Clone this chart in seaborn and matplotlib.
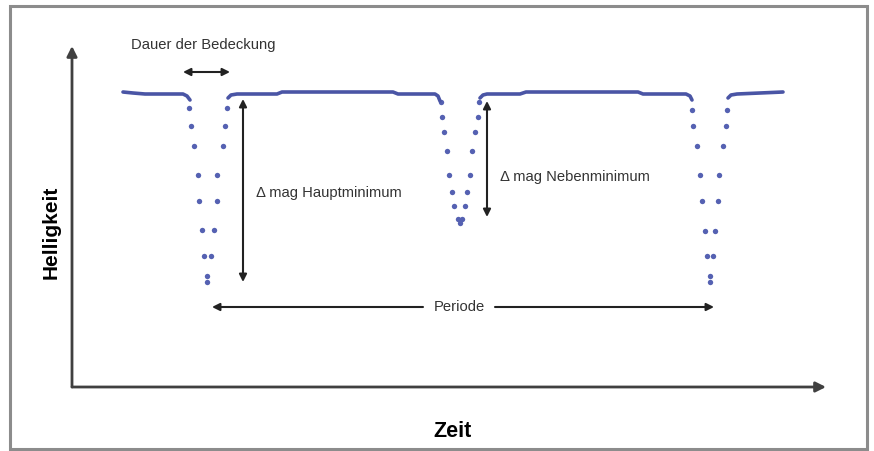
import numpy as np
import pandas as pd
import matplotlib
matplotlib.use("Agg")
import matplotlib.pyplot as plt
from matplotlib.patches import Rectangle
from matplotlib import font_manager as fm
import seaborn as sns

# Schematic light curve of an eclipsing binary.
# Units: time (Zeit) and brightness (Helligkeit) measured from the axis origin.

# baseline (out-of-eclipse) segments
seg_a_t = [51, 61, 73, 111, 115, 118]
seg_a_b = [295, 294, 293, 293, 291, 287]
seg_b_t = [156, 159, 165, 205, 210, 321, 326, 363, 366, 368]
seg_b_b = [289, 292, 293, 293, 295, 295, 293, 293, 291, 286]
seg_c_t = [408, 411, 415, 448, 454, 566, 571, 614, 618, 620]
seg_c_b = [289, 292, 293, 293, 295, 295, 293, 293, 291, 287]
seg_d_t = [656, 659, 665, 688, 711]
seg_d_b = [289, 292, 293, 294, 295]

# primary minimum 1 (dotted)
dip1_t = [117, 119, 122, 126, 127, 130, 132, 155, 153, 151, 145, 145, 142, 139, 135, 135]
dip1_b = [279, 261, 241, 212, 186, 157, 131, 279, 261, 241, 212, 186, 157, 131, 111, 105]
# secondary minimum
dip2_t = [369, 370, 372, 375, 377, 380, 382, 407, 406, 403, 400, 398, 395, 393, 386, 390, 388]
dip2_b = [285, 270, 255, 236, 212, 195, 181, 285, 270, 255, 236, 212, 195, 181, 168, 168, 164]
# primary minimum 2
dip3_t = [620, 621, 625, 628, 630, 633, 635, 655, 654, 651, 647, 646, 643, 641, 638, 638]
dip3_b = [277, 261, 241, 212, 186, 156, 131, 277, 261, 241, 212, 186, 156, 131, 111, 105]

labels = {
    "dauer": "Dauer der Bedeckung",
    "haupt": "\u0394 mag Hauptminimum",
    "neben": "\u0394 mag Nebenminimum",
    "periode": "Periode",
    "x": "Zeit",
    "y": "Helligkeit",
}

line_df = pd.concat([
    pd.DataFrame({"t": seg_a_t, "b": seg_a_b, "seg": "a"}),
    pd.DataFrame({"t": seg_b_t, "b": seg_b_b, "seg": "b"}),
    pd.DataFrame({"t": seg_c_t, "b": seg_c_b, "seg": "c"}),
    pd.DataFrame({"t": seg_d_t, "b": seg_d_b, "seg": "d"}),
], ignore_index=True)
dot_df = pd.DataFrame({"t": dip1_t + dip2_t + dip3_t, "b": dip1_b + dip2_b + dip3_b})

sns.set_style("white")
installed = {f.name for f in fm.fontManager.ttflist}
if "Liberation Sans Narrow" in installed:
    small, small_fs = ["Liberation Sans Narrow", "DejaVu Sans"], 12.8
else:
    small, small_fs = ["Liberation Sans", "DejaVu Sans"], 10.6
bold = ["Liberation Sans", "DejaVu Sans"]

fig = plt.figure(figsize=(8.74, 4.52), dpi=100)
fig.patch.set_facecolor("white")
ax = fig.add_axes([0, 0, 1, 1])
ax.set_xlim(-72, 802)
ax.set_ylim(-64, 388)
ax.axis("off")

LINE_C = "#4A55A5"
DOT_C = "#5561B2"

sns.lineplot(data=line_df, x="t", y="b", units="seg", estimator=None, sort=False,
             color=LINE_C, lw=2.6, ax=ax, solid_capstyle="round")
sns.scatterplot(data=dot_df, x="t", y="b", color=DOT_C, s=15, linewidth=0, ax=ax)

# outer frame
ax.add_patch(Rectangle((-62, -62), 857, 443, fill=False, edgecolor="#8c8c8c",
                       lw=2.2, clip_on=False))

# coordinate axes as arrows
axis_kw = dict(arrowstyle="-|>", color="#404040", lw=2.0, mutation_scale=15,
               shrinkA=0, shrinkB=0)
ax.annotate("", xy=(0, 341), xytext=(0, 0), arrowprops=axis_kw)
ax.annotate("", xy=(754, 0), xytext=(0, 0), arrowprops=axis_kw)

dbl = dict(arrowstyle="<|-|>", color="#222222", lw=1.5, mutation_scale=11,
           shrinkA=0, shrinkB=0)
one = dict(arrowstyle="-|>", color="#222222", lw=1.5, mutation_scale=11,
           shrinkA=0, shrinkB=0)
ax.annotate("", xy=(111, 315), xytext=(158, 315), arrowprops=dbl)
ax.annotate("", xy=(171, 288), xytext=(171, 105), arrowprops=dbl)
ax.annotate("", xy=(415, 286), xytext=(415, 170), arrowprops=dbl)
ax.annotate("", xy=(140, 80), xytext=(351, 80), arrowprops=one)
ax.annotate("", xy=(642, 80), xytext=(423, 80), arrowprops=one)

tc = "#333333"
ax.text(131, 343, labels["dauer"], ha="center", va="center", fontsize=small_fs,
        family=small, color=tc)
ax.text(184, 195, labels["haupt"], ha="left", va="center", fontsize=small_fs,
        family=small, color=tc)
ax.text(428, 211, labels["neben"], ha="left", va="center", fontsize=small_fs,
        family=small, color=tc)
ax.text(387, 81, labels["periode"], ha="center", va="center", fontsize=small_fs,
        family=small, color=tc)
ax.text(380, -44, labels["x"], ha="center", va="center", fontsize=15.5,
        family=bold, fontweight="bold", color="black")
ax.text(-21, 156, labels["y"], ha="center", va="center", fontsize=15,
        family=bold, fontweight="bold", color="black", rotation=90)

fig.savefig("out.png", dpi=100, facecolor="white")
